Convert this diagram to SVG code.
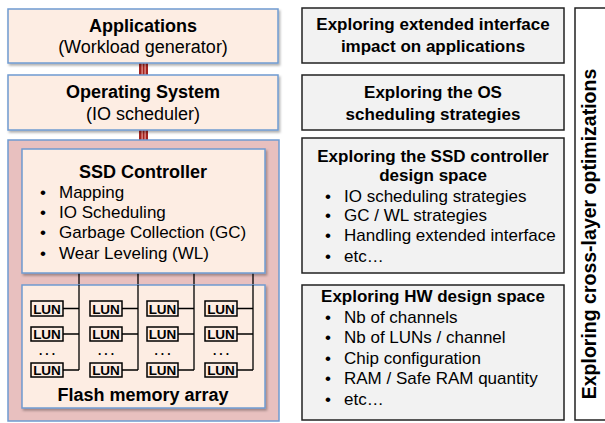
<svg xmlns="http://www.w3.org/2000/svg" width="605" height="423" viewBox="0 0 605 423">
<style>
text{font-family:"Liberation Sans",Arial,sans-serif;fill:#000}
.b{font-weight:bold}
.h{font-size:18px}
.g{font-size:17px}
.lun{font-size:13.5px;font-weight:bold}
.dots{font-size:12px;font-weight:bold;letter-spacing:3px}
.peach{fill:#fdede3;stroke:#6f9bd1;stroke-width:1.5}
.pink{fill:#e8c0bf;stroke:#6f9bd1;stroke-width:1.5}
.gray{fill:#f2f2f2;stroke:#222;stroke-width:1.5}
.lbox{fill:#fdede3;stroke:#000;stroke-width:1.5}
.wire{stroke:#000;stroke-width:1.3;fill:none}
.busc{fill:#a3231f}
.buss{fill:#e7a19c}
</style>
<defs>
<filter id="sh" x="-5%" y="-5%" width="115%" height="120%">
<feDropShadow dx="1.5" dy="2" stdDeviation="1.2" flood-color="#000" flood-opacity="0.3"/>
</filter>
</defs>

<g id="connectors">
<g id="bus-app-os">
<rect class="busc" x="139" y="63" width="9" height="12"/>
<rect class="buss" x="141.5" y="63" width="1.2" height="12"/>
<rect class="buss" x="144.5" y="63" width="1.2" height="12"/>
</g>
<g id="bus-os-ssd">
<rect class="busc" x="139" y="130" width="9" height="19"/>
<rect class="buss" x="141.5" y="130" width="1.2" height="19"/>
<rect class="buss" x="144.5" y="130" width="1.2" height="19"/>
</g>
</g>

<g id="applications">
<rect class="peach" x="8" y="9" width="270" height="54" filter="url(#sh)"/>
<text class="b h" x="143" y="32" text-anchor="middle">Applications</text>
<text class="h" x="143" y="53" text-anchor="middle">(Workload generator)</text>
</g>

<g id="os">
<rect class="peach" x="8" y="75" width="270" height="55" filter="url(#sh)"/>
<text class="b h" x="143" y="98" text-anchor="middle">Operating System</text>
<text class="h" x="143" y="120" text-anchor="middle">(IO scheduler)</text>
</g>

<g id="ssd">
<rect class="pink" x="8" y="140" width="271" height="281"/>
</g>

<g id="channels">
<path class="wire" d="M79 273V370M138 273V370M194 273V370M253 273V370"/>
</g>

<g id="ssd-controller">
<rect class="peach" x="22" y="149" width="243" height="124" filter="url(#sh)"/>
<text class="b h" x="143" y="178" text-anchor="middle">SSD Controller</text>
<g class="g">
<text x="40" y="198">•</text><text x="59" y="198">Mapping</text>
<text x="40" y="218">•</text><text x="59" y="218">IO Scheduling</text>
<text x="40" y="238">•</text><text x="59" y="238">Garbage Collection (GC)</text>
<text x="40" y="259">•</text><text x="59" y="259">Wear Leveling (WL)</text>
</g>
</g>

<g id="flash-array">
<rect class="peach" x="22" y="285" width="243" height="123" filter="url(#sh)"/>
<path class="wire" d="M79 285V370M138 285V370M194 285V370M253 285V370"/>
<g id="luns">
<g id="col1">
<path class="wire" d="M63 308.5H79M63 334H79M63 370H79"/>
<rect class="lbox" x="31" y="301" width="32" height="15"/>
<rect class="lbox" x="31" y="327" width="32" height="14"/>
<rect class="lbox" x="31" y="363" width="32" height="14"/>
<text class="lun" x="47" y="313.5" text-anchor="middle">LUN</text>
<text class="lun" x="47" y="339" text-anchor="middle">LUN</text>
<text class="lun" x="47" y="375" text-anchor="middle">LUN</text>
<text class="dots" x="48.5" y="355" text-anchor="middle">...</text>
</g>
<g id="col2">
<path class="wire" d="M122 308.5H138M122 334H138M122 370H138"/>
<rect class="lbox" x="90" y="301" width="32" height="15"/>
<rect class="lbox" x="90" y="327" width="32" height="14"/>
<rect class="lbox" x="90" y="363" width="32" height="14"/>
<text class="lun" x="106" y="313.5" text-anchor="middle">LUN</text>
<text class="lun" x="106" y="339" text-anchor="middle">LUN</text>
<text class="lun" x="106" y="375" text-anchor="middle">LUN</text>
<text class="dots" x="107.5" y="355" text-anchor="middle">...</text>
</g>
<g id="col3">
<path class="wire" d="M178 308.5H194M178 334H194M178 370H194"/>
<rect class="lbox" x="147" y="301" width="31" height="15"/>
<rect class="lbox" x="147" y="327" width="31" height="14"/>
<rect class="lbox" x="147" y="363" width="31" height="14"/>
<text class="lun" x="162.5" y="313.5" text-anchor="middle">LUN</text>
<text class="lun" x="162.5" y="339" text-anchor="middle">LUN</text>
<text class="lun" x="162.5" y="375" text-anchor="middle">LUN</text>
<text class="dots" x="164" y="355" text-anchor="middle">...</text>
</g>
<g id="col4">
<path class="wire" d="M237 308.5H253M237 334H253M237 370H253"/>
<rect class="lbox" x="205" y="301" width="32" height="15"/>
<rect class="lbox" x="205" y="327" width="32" height="14"/>
<rect class="lbox" x="205" y="363" width="32" height="14"/>
<text class="lun" x="221" y="313.5" text-anchor="middle">LUN</text>
<text class="lun" x="221" y="339" text-anchor="middle">LUN</text>
<text class="lun" x="221" y="375" text-anchor="middle">LUN</text>
<text class="dots" x="222.5" y="355" text-anchor="middle">...</text>
</g>
</g>
<text class="b h" x="143" y="401" text-anchor="middle">Flash memory array</text>
</g>

<g id="explore-app">
<rect class="gray" x="302" y="8" width="262" height="55"/>
<text class="b g" x="433" y="30" text-anchor="middle">Exploring extended interface</text>
<text class="b g" x="433" y="52" text-anchor="middle">impact on applications</text>
</g>

<g id="explore-os">
<rect class="gray" x="302" y="75" width="262" height="55"/>
<text class="b g" x="433" y="98" text-anchor="middle">Exploring the OS</text>
<text class="b g" x="433" y="120" text-anchor="middle">scheduling strategies</text>
</g>

<g id="explore-ssd">
<rect class="gray" x="302" y="138" width="262" height="135"/>
<text class="b g" x="433" y="162" text-anchor="middle">Exploring the SSD controller</text>
<text class="b g" x="433" y="181" text-anchor="middle">design space</text>
<g class="g">
<text x="325" y="202">•</text><text x="344" y="202">IO scheduling strategies</text>
<text x="325" y="221">•</text><text x="344" y="221">GC / WL strategies</text>
<text x="325" y="241">•</text><text x="344" y="241">Handling extended interface</text>
<text x="325" y="262">•</text><text x="344" y="262">etc…</text>
</g>
</g>

<g id="explore-hw">
<rect class="gray" x="302" y="285" width="262" height="135"/>
<text class="b g" x="433" y="302" text-anchor="middle">Exploring HW design space</text>
<g class="g">
<text x="325" y="323">•</text><text x="344" y="323">Nb of channels</text>
<text x="325" y="343">•</text><text x="344" y="343">Nb of LUNs / channel</text>
<text x="325" y="364">•</text><text x="344" y="364">Chip configuration</text>
<text x="325" y="384">•</text><text x="344" y="384">RAM / Safe RAM quantity</text>
<text x="325" y="405">•</text><text x="344" y="405">etc…</text>
</g>
</g>

<g id="cross-layer">
<rect x="575" y="8" width="40" height="412" fill="#fff" stroke="#222" stroke-width="1.5"/>
<text class="b" font-size="19.5" transform="translate(596,234) rotate(-90)" text-anchor="middle">Exploring cross-layer optimizations</text>
</g>
</svg>
